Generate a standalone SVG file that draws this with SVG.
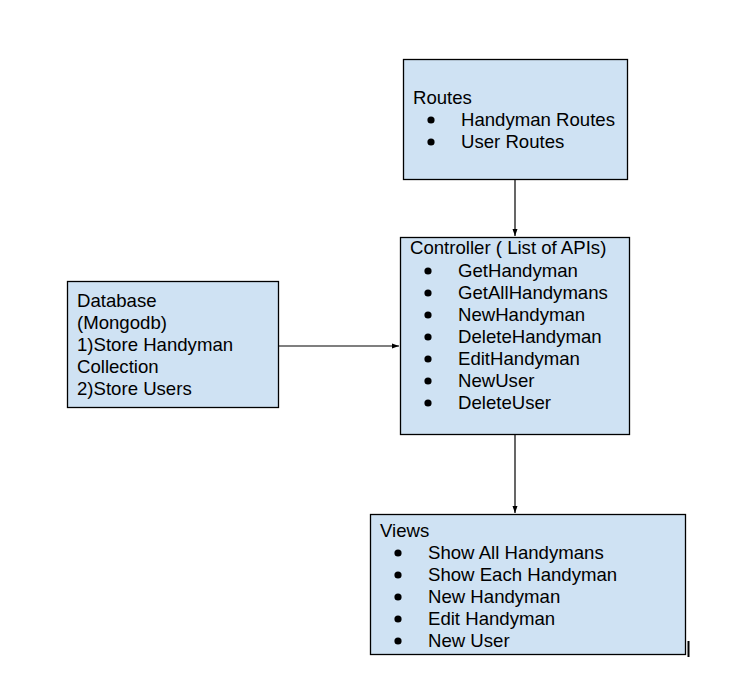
<svg xmlns="http://www.w3.org/2000/svg" width="734" height="699" viewBox="0 0 734 699">
<defs>
<style>
.box{fill:#cfe2f3;stroke:#000;stroke-width:1.3}
text{font-family:"Liberation Sans",Arial,sans-serif;font-size:18.6px;fill:#000}
.edge{stroke:#000;stroke-width:1.2;fill:none}
</style>
<marker id="ah" markerWidth="8" markerHeight="8" refX="7" refY="4" orient="auto" markerUnits="userSpaceOnUse">
<path d="M0,1.5 L7,4 L0,6.5 Z" fill="#000"/>
</marker>
</defs>
<rect width="734" height="699" fill="#fff"/>
<g id="connectors">
<line class="edge" x1="515" y1="179" x2="515" y2="236" marker-end="url(#ah)"/>
<line class="edge" x1="278" y1="346" x2="399" y2="346" marker-end="url(#ah)"/>
<line class="edge" x1="515" y1="434" x2="515" y2="513" marker-end="url(#ah)"/>
</g>
<g id="routes">
<rect class="box" x="403.5" y="59.5" width="224" height="120"/>
<text x="413" y="104">Routes</text>
<circle cx="431" cy="120" r="3.6"/><text x="461" y="126">Handyman Routes</text>
<circle cx="431" cy="142" r="3.6"/><text x="461" y="148">User Routes</text>
</g>
<g id="controller">
<rect class="box" x="400.5" y="237.5" width="229" height="197"/>
<text x="410" y="254">Controller ( List of APIs)</text>
<circle cx="428" cy="271" r="3.6"/><text x="458" y="277">GetHandyman</text>
<circle cx="428" cy="293" r="3.6"/><text x="458" y="299">GetAllHandymans</text>
<circle cx="428" cy="315" r="3.6"/><text x="458" y="321">NewHandyman</text>
<circle cx="428" cy="337" r="3.6"/><text x="458" y="343">DeleteHandyman</text>
<circle cx="428" cy="359" r="3.6"/><text x="458" y="365">EditHandyman</text>
<circle cx="428" cy="381" r="3.6"/><text x="458" y="387">NewUser</text>
<circle cx="428" cy="403" r="3.6"/><text x="458" y="409">DeleteUser</text>
</g>
<g id="database">
<rect class="box" x="67.5" y="281.5" width="211" height="126"/>
<text x="77" y="307">Database</text>
<text x="77" y="329">(Mongodb)</text>
<text x="77" y="351">1)Store Handyman</text>
<text x="77" y="373">Collection</text>
<text x="77" y="395">2)Store Users</text>
</g>
<g id="views">
<rect class="box" x="370.5" y="514.5" width="315" height="140"/>
<text x="380" y="537">Views</text>
<circle cx="398" cy="553" r="3.6"/><text x="428" y="559">Show All Handymans</text>
<circle cx="398" cy="575" r="3.6"/><text x="428" y="581">Show Each Handyman</text>
<circle cx="398" cy="597" r="3.6"/><text x="428" y="603">New Handyman</text>
<circle cx="398" cy="619" r="3.6"/><text x="428" y="625">Edit Handyman</text>
<circle cx="398" cy="641" r="3.6"/><text x="428" y="647">New User</text>
</g>
<line x1="688.5" y1="641" x2="688.5" y2="657" stroke="#000" stroke-width="2"/>
</svg>
